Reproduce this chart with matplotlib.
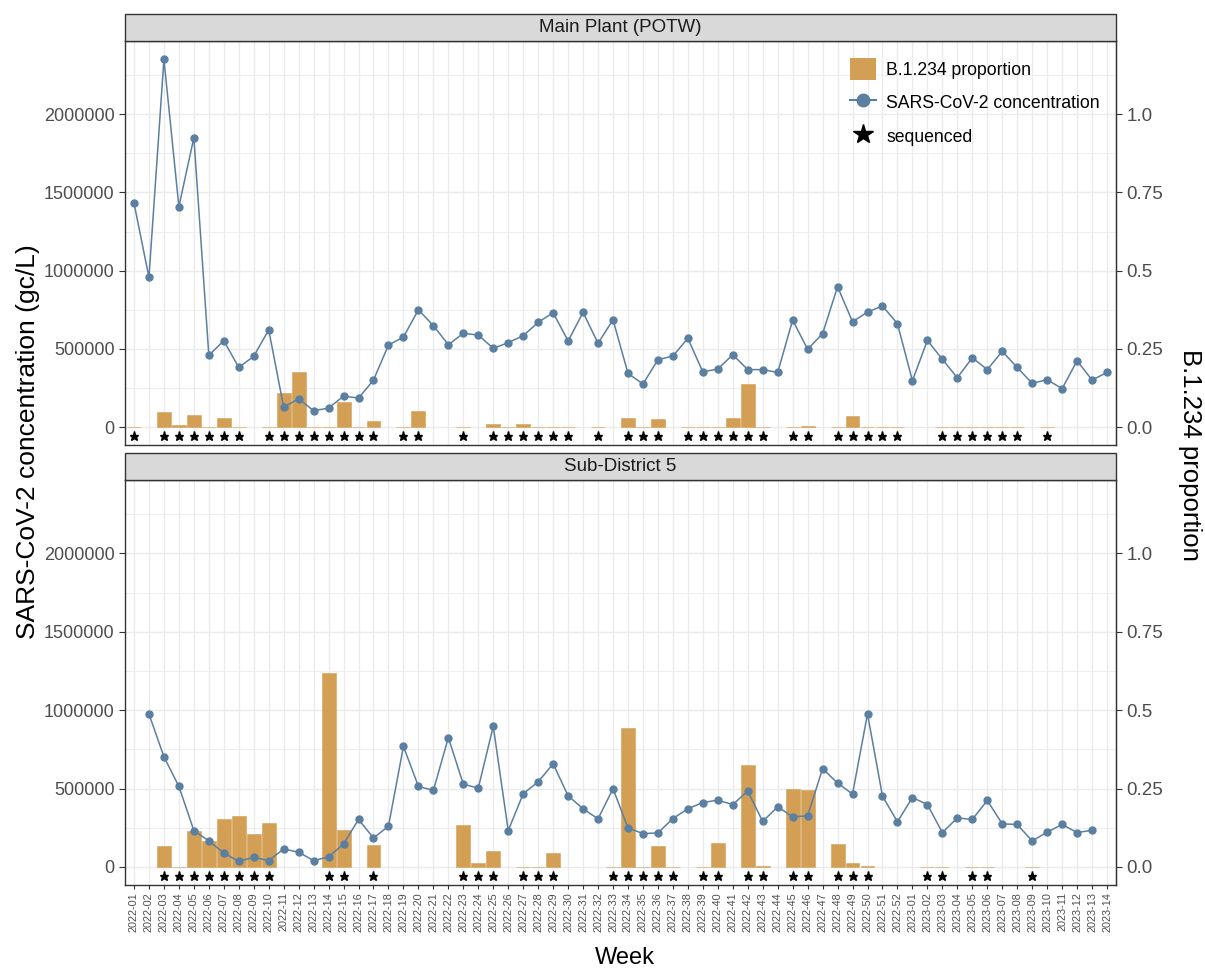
import numpy as np
import matplotlib
matplotlib.use("Agg")
import matplotlib.pyplot as plt
from matplotlib.patches import Rectangle, Patch
from matplotlib.lines import Line2D

plt.rcParams['font.family'] = ['Liberation Sans', 'DejaVu Sans']

nan = np.nan

weeks = [f"2022-{w:02d}" for w in range(1, 53)] + [f"2023-{w:02d}" for w in range(1, 15)]

panel_titles = ["Main Plant (POTW)", "Sub-District 5"]

conc_main = [1432000, 957000, 2351000, 1409000, 1850000, 458000, 552000, 381000, 452000, 622000,
             126000, 181000, 104000, 121000, 198000, 185000, 300000, 524000, 575000, 750000,
             648000, 526000, 599000, 588000, 503000, 539000, 584000, 669000, 731000, 550000,
             733000, 535000, 686000, 343000, 275000, 430000, 454000, 567000, 352000, 371000,
             462000, 367000, 367000, 349000, 684000, 497000, 597000, 897000, 673000, 735000,
             774000, 661000, 296000, 554000, 433000, 315000, 443000, 367000, 484000, 381000,
             279000, 303000, 245000, 424000, 300000, 349000]

prop_main = [0, nan, 0.047, 0.005, 0.040, 0.001, 0.028, 0, nan, 0,
             0.108, 0.175, 0, 0, 0.079, 0, 0.018, nan, 0, 0.050,
             nan, nan, 0, nan, 0.011, 0, 0.0085, 0, 0, 0,
             nan, 0, nan, 0.028, 0, 0.0245, nan, 0, 0, 0,
             0.028, 0.136, 0, nan, 0, 0.002, nan, 0, 0.034, 0,
             0, 0, nan, nan, 0, 0, 0, 0, 0, 0,
             nan, 0, nan, nan, nan, nan]

conc_sub5 = [nan, 976000, 703000, 514000, 232000, 166000, 89500, 36000, 62000, 40500,
             115000, 94000, 40500, 64000, 147000, 303000, 185000, 260000, 769000, 514000,
             488000, 825000, 528000, 503000, 897000, 232000, 467000, 543000, 658000, 454000,
             371000, 307000, 499000, 249000, 213000, 217000, 309000, 371000, 411000, 426000,
             398000, 484000, 290000, 384000, 320000, 326000, 627000, 535000, 465000, 976000,
             452000, 288000, 443000, 398000, 219500, 313000, 303000, 424000, 275000, 271000,
             166000, 222000, 271000, 219500, 234000, nan]

prop_sub5 = [nan, nan, 0.067, 0, 0.115, 0.083, 0.153, 0.163, 0.105, 0.141,
             nan, nan, nan, 0.62, 0.118, nan, 0.070, nan, nan, nan,
             nan, nan, 0.134, 0.0128, 0.051, nan, 0, 0, 0.045, nan,
             nan, nan, 0, 0.444, 0, 0.067, 0, nan, 0, 0.077,
             nan, 0.326, 0.003, nan, 0.249, 0.246, nan, 0.0735, 0.0128, 0.003,
             nan, nan, nan, 0, 0, nan, 0, 0, nan, nan,
             0, nan, nan, nan, nan, nan]

left_ticks = [0, 500000, 1000000, 1500000, 2000000]
right_ticks = [0.0, 0.25, 0.5, 0.75, 1.0]
right_labels = ["0.0", "0.25", "0.5", "0.75", "1.0"]

SCALE = 2e6          # secondary axis: proportion = concentration / SCALE
STAR_Y = -60000
YLIM = (-115000, 2468000)

BAR_C = '#D39F55'
LINE_C = '#5B7FA0'
GRID_C = '#EBEBEB'
DARK = '#333333'
TICK_C = '#4D4D4D'

W, H = 1205, 969
fig = plt.figure(figsize=(W / 100, H / 100), dpi=100)

def fx(px):
    return px / W

def fy(py):
    return 1 - py / H

x_left, x_right = 125, 1116
panels = [(41, 445, 14), (480, 885, 453)]

datasets = [(conc_main, prop_main), (conc_sub5, prop_sub5)]
axes = []
for k, ((top, bot, strip_top), (conc, prop)) in enumerate(zip(panels, datasets)):
    ax = fig.add_axes([fx(x_left), fy(bot), fx(x_right - x_left), (bot - top) / H])
    axes.append(ax)
    x = np.arange(len(weeks))
    conc = np.array(conc, dtype=float)
    prop = np.array(prop, dtype=float)
    ax.set_xlim(-0.6, len(weeks) - 0.4)
    ax.set_ylim(*YLIM)
    ax.set_xticks(x)
    ax.set_yticks(left_ticks)
    ax.set_yticks([250000, 750000, 1250000, 1750000, 2250000], minor=True)
    ax.set_yticklabels([str(v) for v in left_ticks])
    ax.grid(True, which='major', color=GRID_C, lw=1.0, zorder=0)
    ax.grid(True, which='minor', axis='y', color=GRID_C, lw=0.6, zorder=0)
    ax.set_axisbelow(True)
    m = ~np.isnan(prop)
    ax.bar(x[m], prop[m] * SCALE, width=0.93, color=BAR_C, edgecolor=BAR_C,
           lw=0.4, zorder=2)
    ax.plot(x, conc, color=LINE_C, lw=1.1, marker='o', ms=5, zorder=3)
    ax.plot(x[m], np.full(m.sum(), STAR_Y), ls='none', marker='*', color='black',
            ms=6.5, zorder=4)
    for s in ax.spines.values():
        s.set_color(DARK)
        s.set_linewidth(1.0)
    ax.tick_params(axis='y', which='major', colors=DARK, labelcolor=TICK_C,
                   labelsize=13, length=4, width=0.8)
    ax.tick_params(axis='y', which='minor', length=0)
    if k == 1:
        ax.set_xticklabels(weeks, rotation=90, fontsize=7.8, color=TICK_C)
        ax.tick_params(axis='x', colors=DARK, labelcolor=TICK_C, length=3, width=0.8, pad=2)
    else:
        ax.tick_params(axis='x', length=0, labelbottom=False)
    sec = ax.secondary_yaxis('right', functions=(lambda y: y / SCALE, lambda p: p * SCALE))
    sec.set_yticks(right_ticks)
    sec.set_yticklabels(right_labels)
    sec.tick_params(colors=DARK, labelcolor=TICK_C, labelsize=13.5, length=4, width=0.8)
    sec.spines['right'].set_color(DARK)
    # strip
    fig.patches.append(Rectangle((fx(x_left), fy(top)), fx(x_right - x_left), (top - strip_top) / H,
                                 transform=fig.transFigure, facecolor='#D9D9D9',
                                 edgecolor=DARK, lw=1.0))
    fig.text(fx((x_left + x_right) / 2), fy((top + strip_top) / 2), panel_titles[k],
             ha='center', va='center', fontsize=13.5, color='#1A1A1A')

# legend
handles = [Patch(facecolor=BAR_C, edgecolor='none'),
           Line2D([], [], color=LINE_C, lw=1.5, marker='o', ms=9),
           Line2D([], [], ls='none', marker='*', color='black', ms=15)]
labels = ["B.1.234 proportion", "SARS-CoV-2 concentration", "sequenced"]
axes[0].legend(handles, labels, loc='upper left',
               bbox_to_anchor=((850 - x_left) / (x_right - x_left), 1 - (58 - 41) / 404),
               frameon=False, fontsize=12.7, handlelength=1.5, handleheight=1.5,
               handletextpad=0.55, labelspacing=0.7, borderpad=0, borderaxespad=0)

fig.text(fx(28), fy(442), "SARS-CoV-2 concentration (gc/L)", rotation=90,
         ha='center', va='center', fontsize=19)
fig.text(fx(1190), fy(455), "B.1.234 proportion", rotation=-90,
         ha='center', va='center', fontsize=18.5)
fig.text(fx(625), fy(958), "Week", ha='center', va='center', fontsize=17)

fig.savefig("out.png", dpi=100, facecolor='white')
